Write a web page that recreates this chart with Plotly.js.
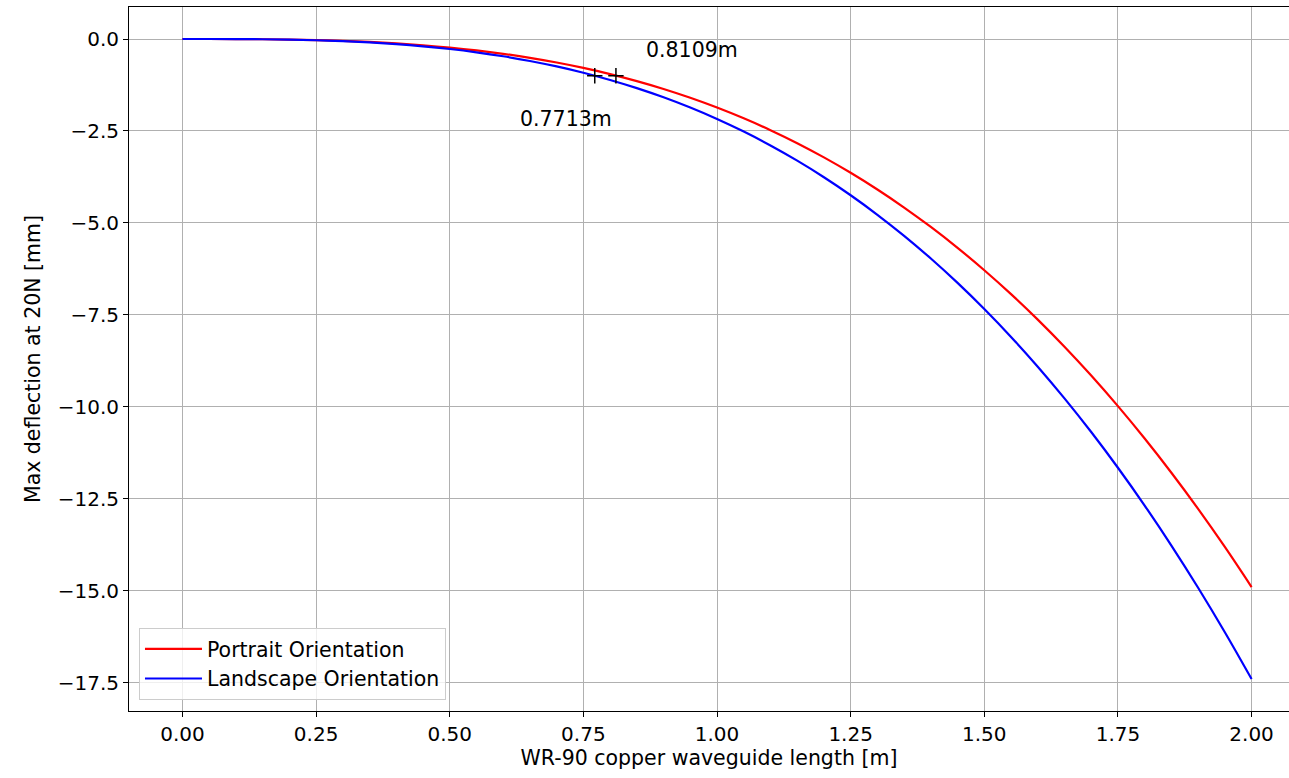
<!DOCTYPE html>
<html>
<head>
<meta charset="utf-8">
<script src="https://cdn.plot.ly/plotly-3.0.1.min.js"></script>
<style>html,body{margin:0;padding:0;background:#fff;}#chart{width:1289px;height:778px;}</style>
</head>
<body>
<div id="chart"></div>
<script>
// Waveguide length [m]
const lengthM = [0,0.05,0.1,0.15,0.2,0.25,0.3,0.35,0.4,0.45,0.5,0.55,0.6,0.65,0.7,0.75,0.8,0.85,0.9,0.95,1.0,
  1.05,1.1,1.15,1.2,1.25,1.3,1.35,1.4,1.45,1.5,1.55,1.6,1.65,1.7,1.75,1.8,1.85,1.9,1.95,2.0];
// Max deflection at 20N [mm], portrait orientation
const portrait = [0,-0.0002,-0.0019,-0.0063,-0.0149,-0.0291,-0.0503,-0.0799,-0.1192,-0.1697,-0.2328,-0.3099,-0.4023,-0.5115,-0.6388,-0.7857,-0.9536,-1.1438,-1.3578,-1.5969,-1.8625,
  -2.1561,-2.4790,-2.8326,-3.2184,-3.6377,-4.0919,-4.5825,-5.1107,-5.6781,-6.2859,-6.9357,-7.6288,-8.3666,-9.1505,-9.9818,-10.8621,-11.7927,-12.7749,-13.8102,-14.9];
// Max deflection at 20N [mm], landscape orientation
const landscape = [0,-0.0003,-0.0022,-0.0073,-0.0174,-0.0340,-0.0587,-0.0933,-0.1392,-0.1982,-0.2719,-0.3619,-0.4698,-0.5973,-0.7460,-0.9176,-1.1136,-1.3357,-1.5856,-1.8648,-2.175,
  -2.5178,-2.8949,-3.3079,-3.7584,-4.2480,-4.7785,-5.3513,-5.9682,-6.6308,-7.3406,-8.0994,-8.9088,-9.7704,-10.6858,-11.6566,-12.6846,-13.7713,-14.9183,-16.1274,-17.4];
// Lengths where deflection reaches 1 mm
const markX = [0.7713, 0.8109];
const markY = [-1.0, -1.0];
const markLabels = ['0.7713m', '0.8109m'];
const labelX = [0.627, 0.864];
const labelY = [-2.17, -0.30];
const xTicks = [0,0.25,0.5,0.75,1.0,1.25,1.5,1.75,2.0];
const yTicks = [0,-2.5,-5,-7.5,-10,-12.5,-15,-17.5];

const font = {family: 'DejaVu Sans, sans-serif', size: 20.5, color: '#000'};
const tickFont = {family: 'DejaVu Sans, sans-serif', size: 20, color: '#000'};

const traces = [
  {x: lengthM, y: portrait, mode: 'lines', name: 'Portrait Orientation', line: {color: 'red', width: 2.2, shape: 'spline'}},
  {x: lengthM, y: landscape, mode: 'lines', name: 'Landscape Orientation', line: {color: 'blue', width: 2.2, shape: 'spline'}},
  {x: markX, y: markY, mode: 'markers', showlegend: false, hoverinfo: 'skip',
   marker: {symbol: 'cross-thin', size: 11, color: 'black', line: {color: 'black', width: 1.5}}}
];

const annotations = markLabels.map((t, i) => ({
  x: labelX[i], y: labelY[i], xref: 'x', yref: 'y', text: t, showarrow: false,
  xanchor: 'left', yanchor: 'middle', font: font
}));

const layout = {
  width: 1289, height: 778,
  margin: {l: 129, r: 0, t: 7, b: 67},
  paper_bgcolor: '#fff', plot_bgcolor: '#fff',
  font: font,
  showlegend: true,
  legend: {x: 0.0086, y: 0.0156, xanchor: 'left', yanchor: 'bottom',
    bgcolor: 'rgba(255,255,255,0.8)', bordercolor: '#cccccc', borderwidth: 1, font: font,
    itemwidth: 57, tracegroupgap: 4},
  xaxis: {
    range: [-0.1, 2.07], tickvals: xTicks, tickformat: '.2f',
    showgrid: true, gridcolor: '#b0b0b0', gridwidth: 1, zeroline: false,
    showline: true, linecolor: '#000', linewidth: 1, mirror: true,
    ticks: 'outside', ticklen: 5, tickcolor: '#000', tickfont: tickFont,
    title: {text: 'WR-90 copper waveguide length [m]', font: font, standoff: 4}
  },
  yaxis: {
    range: [-18.27, 0.87], tickvals: yTicks, tickformat: '.1f',
    showgrid: true, gridcolor: '#b0b0b0', gridwidth: 1, zeroline: false,
    showline: true, linecolor: '#000', linewidth: 1,
    ticks: 'outside', ticklen: 5, tickcolor: '#000', tickfont: tickFont,
    title: {text: 'Max deflection at 20N [mm]', font: font, standoff: 11}
  },
  annotations: annotations
};

Plotly.newPlot('chart', traces, layout, {displayModeBar: false, staticPlot: true});
</script>
</body>
</html>
